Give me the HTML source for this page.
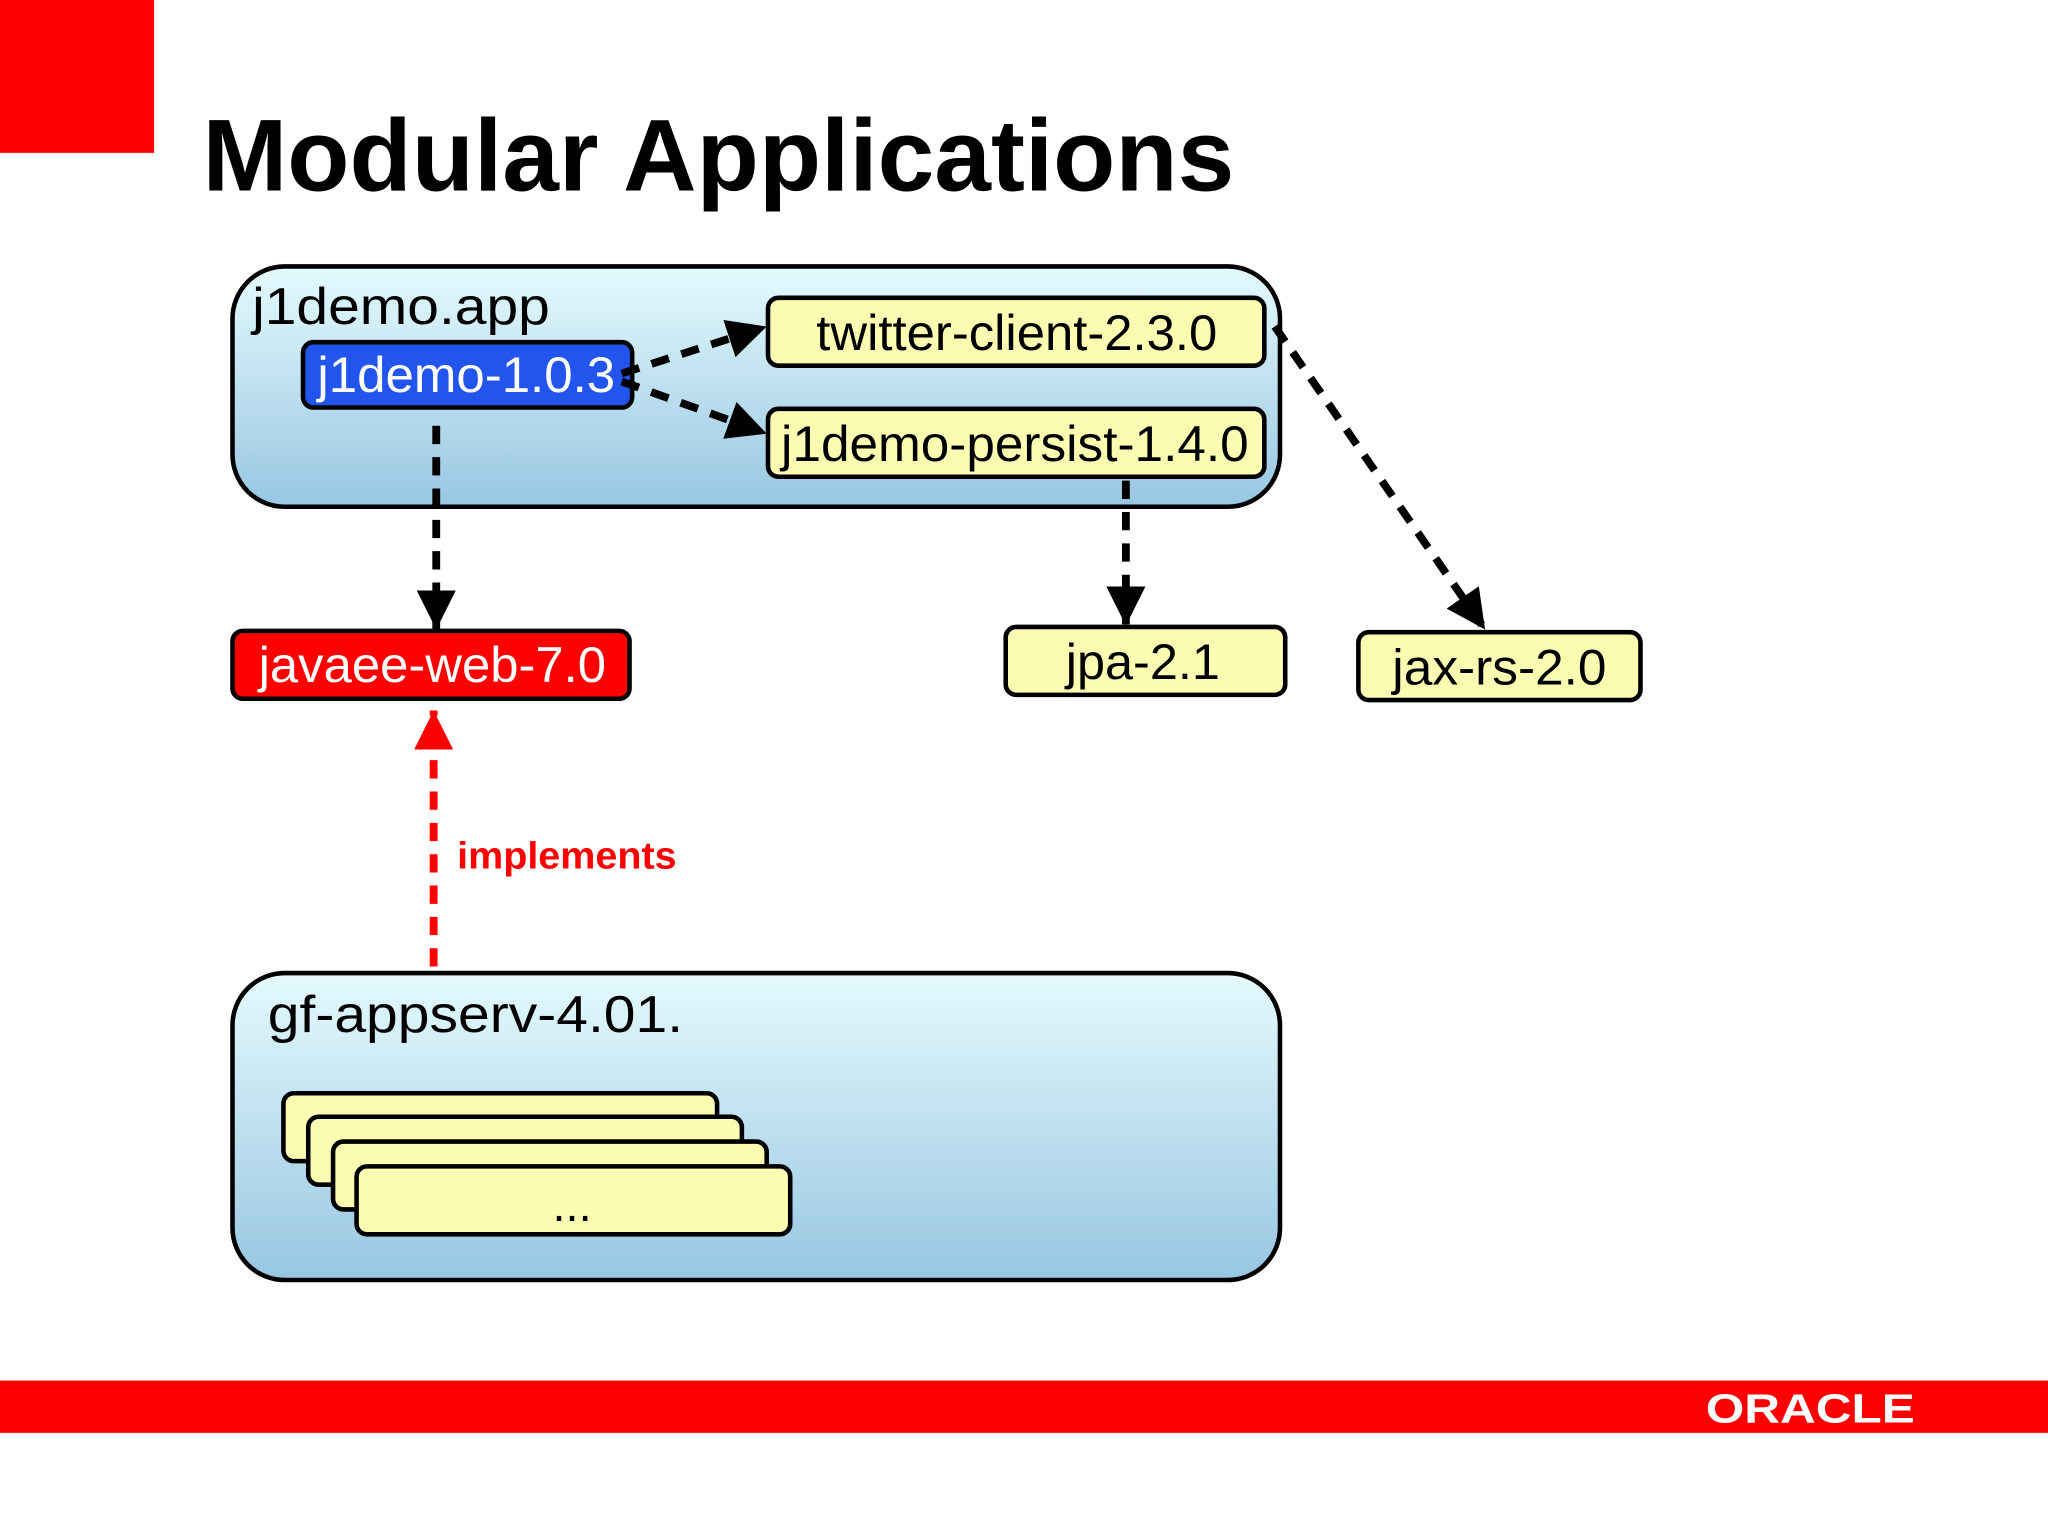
<!DOCTYPE html>
<html><head><meta charset="utf-8"><style>
html,body{margin:0;padding:0;background:#fff;width:2048px;height:1536px;overflow:hidden}
svg{display:block}
text{font-family:"Liberation Sans",Arial,sans-serif}
</style></head><body>
<svg width="2048" height="1536" viewBox="0 0 1568 1176" xmlns="http://www.w3.org/2000/svg">
<defs>
<linearGradient id="g" x1="0" y1="0" x2="0" y2="1">
<stop offset="0" stop-color="#e4fafd"/><stop offset="1" stop-color="#98c6e2"/>
</linearGradient>
<marker id="ah" viewBox="0 0 10 10" refX="10" refY="5" markerWidth="5" markerHeight="5" orient="auto" markerUnits="strokeWidth"><path d="M0,0 L10,5 L0,10 z" fill="#000"/></marker>
<marker id="ahr" viewBox="0 0 10 10" refX="10" refY="5" markerWidth="5" markerHeight="5" orient="auto" markerUnits="strokeWidth"><path d="M0,0 L10,5 L0,10 z" fill="#f00"/></marker>
</defs>
<rect x="0" y="0" width="118" height="117" fill="#ff0000"/>
<text x="155" y="146" font-size="78" font-weight="bold" textLength="790" lengthAdjust="spacingAndGlyphs">Modular Applications</text>

<rect x="178" y="204" width="802" height="184" rx="40" fill="url(#g)" stroke="#000" stroke-width="3.5"/>
<text x="193" y="248" font-size="40" textLength="228" lengthAdjust="spacingAndGlyphs">j1demo.app</text>
<rect x="232" y="262" width="252" height="50" rx="8" fill="#2255ee" stroke="#000" stroke-width="3.5"/>
<text x="243" y="300" font-size="38" fill="#fff" textLength="228" lengthAdjust="spacingAndGlyphs">j1demo-1.0.3</text>
<rect x="588" y="228" width="380" height="52" rx="8" fill="#fbfbb2" stroke="#000" stroke-width="3.5"/>
<text x="625" y="268" font-size="38" textLength="307" lengthAdjust="spacingAndGlyphs">twitter-client-2.3.0</text>
<rect x="588" y="313" width="380" height="52" rx="8" fill="#fbfbb2" stroke="#000" stroke-width="3.5"/>
<text x="598" y="353" font-size="38" textLength="358" lengthAdjust="spacingAndGlyphs">j1demo-persist-1.4.0</text>

<rect x="178" y="483" width="304" height="52" rx="8" fill="#ff0000" stroke="#000" stroke-width="3.5"/>
<text x="198" y="522" font-size="38" fill="#fff" textLength="266" lengthAdjust="spacingAndGlyphs">javaee-web-7.0</text>
<rect x="770" y="480" width="214" height="52" rx="8" fill="#fbfbb2" stroke="#000" stroke-width="3.5"/>
<text x="816" y="520" font-size="38" textLength="118" lengthAdjust="spacingAndGlyphs">jpa-2.1</text>
<rect x="1040" y="484" width="216" height="52" rx="8" fill="#fbfbb2" stroke="#000" stroke-width="3.5"/>
<text x="1066" y="524" font-size="38" textLength="164" lengthAdjust="spacingAndGlyphs">jax-rs-2.0</text>

<g stroke="#000" stroke-width="6" stroke-dasharray="14,10" fill="none">
<line x1="334" y1="326" x2="334" y2="482" marker-end="url(#ah)"/>
<line x1="476" y1="286" x2="587" y2="250" marker-end="url(#ah)"/>
<line x1="476" y1="292" x2="587" y2="332" marker-end="url(#ah)"/>
<line x1="862" y1="368" x2="862" y2="479" marker-end="url(#ah)"/>
<line x1="976" y1="250" x2="1137" y2="482" marker-end="url(#ah)"/>
</g>
<line x1="332" y1="740" x2="332" y2="544" stroke="#f00" stroke-width="6" stroke-dasharray="14,10" marker-end="url(#ahr)"/>
<text x="350" y="665" font-size="29" font-weight="bold" fill="#f00" textLength="168" lengthAdjust="spacingAndGlyphs">implements</text>

<rect x="178" y="745" width="802" height="235" rx="40" fill="url(#g)" stroke="#000" stroke-width="3.5"/>
<text x="205" y="790" font-size="40" textLength="318" lengthAdjust="spacingAndGlyphs">gf-appserv-4.01.</text>
<rect x="217" y="837" width="332" height="52" rx="8" fill="#fbfbb2" stroke="#000" stroke-width="3.5"/>
<rect x="236" y="855" width="332" height="52" rx="8" fill="#fbfbb2" stroke="#000" stroke-width="3.5"/>
<rect x="255" y="874" width="332" height="52" rx="8" fill="#fbfbb2" stroke="#000" stroke-width="3.5"/>
<rect x="273" y="893" width="332" height="52" rx="8" fill="#fbfbb2" stroke="#000" stroke-width="3.5"/>
<text x="423" y="935" font-size="36">...</text>

<rect x="0" y="1057" width="1568" height="40" fill="#ff0000"/>
<text x="1306" y="1089" font-size="31" font-weight="bold" fill="#fff" textLength="160" lengthAdjust="spacingAndGlyphs">ORACLE</text>
</svg>
</body></html>
